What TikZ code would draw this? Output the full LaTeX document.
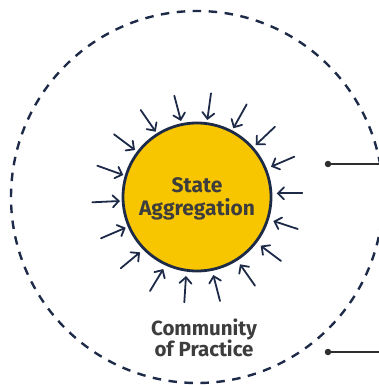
\documentclass[tikz,border=0pt]{standalone}
\usepackage{fontspec}
\setmainfont{Fira Sans}
\usetikzlibrary{arrows.meta}
\definecolor{navy}{HTML}{1E2B48}
\definecolor{sunyellow}{HTML}{F7C600}
\definecolor{txtgray}{HTML}{3D3D3D}
\definecolor{linegray}{HTML}{2E2E2E}
\tikzset{
  sun/.style={circle, draw=navy, line width=2.8pt, fill=sunyellow, minimum size=148pt, inner sep=0pt},
  suntext/.style={text=txtgray, font=\bfseries\fontsize{21}{23}\selectfont, align=center},
  ray/.style={draw=navy, line width=1.8pt, line cap=round, -{Straight Barb[length=6pt,width=12pt,line cap=round]}},
  community/.style={circle, draw=navy, line width=2.4pt, dash pattern=on 8.5pt off 7.5pt, minimum size=372pt, inner sep=0pt},
  cptext/.style={text=txtgray, font=\bfseries\fontsize{20.5}{21.5}\selectfont, align=center},
  dot/.style={circle, fill=linegray, minimum size=6.5pt, inner sep=0pt},
  link/.style={draw=linegray, line width=1.5pt}
}
\begin{document}
\begin{tikzpicture}[x=1pt,y=-1pt]
\useasboundingbox (0,0) rectangle (379,385);
\node[community] (cop) at (197,197) {};
\node[sun] (sun) at (197,197) {};
\node[suntext] (sunlabel) at (197,199) {State\\Aggregation};
\node[cptext] (coplabel) at (204,338) {Community\\of Practice};
\foreach \tx/\ty/\hx/\hy [count=\i] in {
  174.3/95.7/181/121,
  140.7/110/155.7/131.7,
  114/134.3/135/150,
  97.3/165.7/123.3/175,
  92.3/202.3/120/201,
  101/238.3/125.7/227.7,
  120.7/268.3/140/252.3,
  150/291/163.3/269,
  184.3/302.3/186/276,
  220/301/213.3/275,
  255/285.7/240/264.3,
  281/261/260.7/245.7,
  297.7/229/273.3/221,
  302.3/193.3/276.7/193.3,
  294.3/156.7/271/166.7,
  275/126.7/255.7/145,
  246.7/104.3/233.3/128.3,
  211/93.3/207.3/120}{
  \coordinate (t\i) at (\tx,\ty);
  \coordinate (h\i) at (\hx,\hy);
  \draw[ray] (t\i) -- (h\i);
}
\node[dot] (d1) at (328,164) {};
\coordinate (e1) at (380,164);
\draw[link] (d1) -- (e1);
\node[dot] (d2) at (328,352) {};
\coordinate (e2) at (380,352);
\draw[link] (d2) -- (e2);
\end{tikzpicture}
\end{document}
